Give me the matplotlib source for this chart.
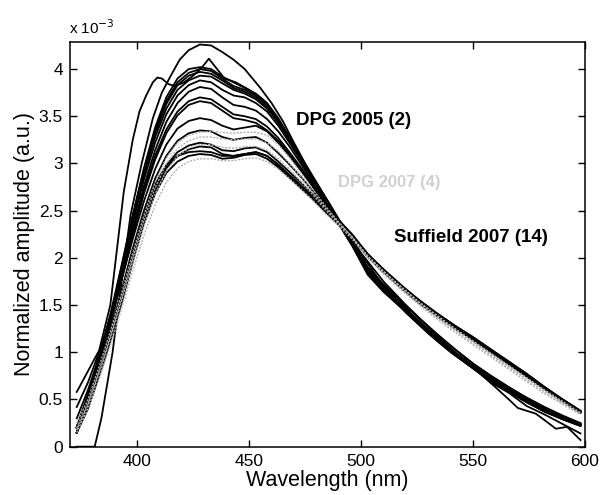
import matplotlib
matplotlib.use("Agg")
import matplotlib.pyplot as plt

# ---------------- data (amplitude in units of 1e-3) ----------------
wl = [373, 378, 383, 388, 393, 398, 403, 408, 413, 418, 423, 428, 433, 438, 443,
      448, 453, 458, 463, 468, 473, 478, 484, 490, 496, 503, 510, 518, 526, 534,
      542, 550, 558, 566, 574, 582, 590, 598]

# Suffield 2007 (14 spectra)
s01 = [0.15, 0.5, 0.9, 1.35, 1.9, 2.45, 2.95, 3.38, 3.7, 3.9, 4.0, 4.02, 4.0, 3.92, 3.86, 3.8, 3.74, 3.64, 3.48, 3.28, 3.08, 2.86, 2.6, 2.36, 2.13, 1.82, 1.64, 1.47, 1.29, 1.12, 0.97, 0.83, 0.7, 0.58, 0.47, 0.37, 0.29, 0.22]
s02 = [0.2, 0.55, 0.95, 1.4, 1.92, 2.45, 2.93, 3.35, 3.66, 3.86, 3.96, 4.0, 3.98, 3.9, 3.82, 3.78, 3.72, 3.62, 3.46, 3.27, 3.07, 2.85, 2.6, 2.37, 2.14, 1.84, 1.66, 1.48, 1.31, 1.14, 0.98, 0.84, 0.71, 0.59, 0.48, 0.38, 0.3, 0.23]
s03 = [0.15, 0.48, 0.88, 1.32, 1.85, 2.4, 2.9, 3.32, 3.63, 3.83, 3.93, 3.97, 3.95, 3.88, 3.8, 3.76, 3.7, 3.6, 3.45, 3.26, 3.06, 2.84, 2.59, 2.36, 2.13, 1.83, 1.65, 1.47, 1.3, 1.13, 0.97, 0.83, 0.7, 0.58, 0.47, 0.37, 0.29, 0.22]
s04 = [0.21, 0.55, 0.95, 1.38, 1.88, 2.4, 2.88, 3.28, 3.58, 3.78, 3.88, 3.93, 3.92, 3.85, 3.78, 3.74, 3.68, 3.58, 3.43, 3.25, 3.05, 2.84, 2.6, 2.38, 2.16, 1.86, 1.68, 1.5, 1.32, 1.15, 0.99, 0.85, 0.72, 0.6, 0.49, 0.39, 0.31, 0.24]
s05 = [0.2, 0.52, 0.92, 1.35, 1.85, 2.36, 2.83, 3.22, 3.52, 3.72, 3.83, 3.88, 3.86, 3.78, 3.72, 3.7, 3.64, 3.55, 3.4, 3.22, 3.03, 2.83, 2.59, 2.37, 2.15, 1.85, 1.67, 1.49, 1.31, 1.14, 0.98, 0.84, 0.71, 0.59, 0.48, 0.38, 0.3, 0.23]
s06 = [0.15, 0.47, 0.86, 1.28, 1.78, 2.3, 2.76, 3.14, 3.44, 3.64, 3.76, 3.81, 3.79, 3.7, 3.62, 3.6, 3.56, 3.47, 3.34, 3.18, 3.0, 2.81, 2.58, 2.37, 2.16, 1.87, 1.69, 1.51, 1.33, 1.16, 1.0, 0.86, 0.73, 0.61, 0.5, 0.4, 0.31, 0.24]
s07 = [0.3, 0.6, 0.95, 1.35, 1.8, 2.27, 2.72, 3.08, 3.36, 3.55, 3.66, 3.7, 3.68, 3.6, 3.52, 3.5, 3.47, 3.39, 3.27, 3.12, 2.96, 2.79, 2.57, 2.37, 2.17, 1.89, 1.71, 1.53, 1.36, 1.19, 1.03, 0.88, 0.75, 0.63, 0.52, 0.42, 0.33, 0.25]
s08 = [0.21, 0.52, 0.9, 1.3, 1.76, 2.24, 2.68, 3.04, 3.32, 3.51, 3.62, 3.66, 3.64, 3.56, 3.48, 3.46, 3.43, 3.35, 3.24, 3.1, 2.94, 2.77, 2.56, 2.36, 2.17, 1.9, 1.72, 1.54, 1.36, 1.19, 1.03, 0.88, 0.75, 0.63, 0.51, 0.41, 0.32, 0.24]
s09 = [0.42, 0.68, 1.0, 1.36, 1.77, 2.2, 2.6, 2.94, 3.2, 3.37, 3.45, 3.48, 3.46, 3.4, 3.36, 3.38, 3.4, 3.34, 3.22, 3.08, 2.93, 2.77, 2.57, 2.4, 2.24, 2.02, 1.85, 1.68, 1.52, 1.38, 1.25, 1.13, 1.0, 0.87, 0.74, 0.61, 0.48, 0.36]
s10 = [0.15, 0.45, 0.82, 1.22, 1.65, 2.1, 2.5, 2.84, 3.08, 3.24, 3.32, 3.35, 3.34, 3.28, 3.25, 3.27, 3.28, 3.22, 3.11, 2.99, 2.86, 2.72, 2.55, 2.4, 2.25, 2.04, 1.87, 1.7, 1.54, 1.4, 1.27, 1.15, 1.02, 0.89, 0.76, 0.62, 0.49, 0.37]
s11 = [0.2, 0.48, 0.84, 1.22, 1.63, 2.06, 2.45, 2.76, 2.98, 3.12, 3.19, 3.22, 3.2, 3.14, 3.13, 3.16, 3.17, 3.12, 3.02, 2.91, 2.8, 2.68, 2.53, 2.38, 2.24, 2.04, 1.88, 1.71, 1.55, 1.41, 1.28, 1.16, 1.03, 0.9, 0.77, 0.63, 0.5, 0.38]
s12 = [0.15, 0.42, 0.78, 1.16, 1.58, 2.0, 2.4, 2.72, 2.95, 3.08, 3.15, 3.18, 3.17, 3.1, 3.08, 3.1, 3.12, 3.08, 2.99, 2.88, 2.77, 2.66, 2.51, 2.37, 2.23, 2.03, 1.87, 1.7, 1.55, 1.41, 1.28, 1.16, 1.03, 0.9, 0.77, 0.63, 0.5, 0.38]
s13 = [0.2, 0.45, 0.8, 1.2, 1.6, 2.05, 2.45, 2.78, 2.98, 3.08, 3.12, 3.13, 3.12, 3.08, 3.08, 3.1, 3.12, 3.08, 2.98, 2.87, 2.76, 2.65, 2.5, 2.36, 2.22, 2.03, 1.87, 1.7, 1.55, 1.4, 1.27, 1.15, 1.02, 0.9, 0.77, 0.63, 0.5, 0.37]
s14 = [0.15, 0.4, 0.75, 1.12, 1.52, 1.96, 2.36, 2.68, 2.9, 3.02, 3.08, 3.1, 3.09, 3.05, 3.06, 3.09, 3.1, 3.05, 2.96, 2.85, 2.74, 2.63, 2.49, 2.35, 2.21, 2.01, 1.85, 1.69, 1.53, 1.39, 1.26, 1.14, 1.01, 0.88, 0.75, 0.62, 0.49, 0.36]

# DPG 2007 (4 spectra, grey)
g01 = [0.25, 0.5, 0.85, 1.22, 1.62, 2.05, 2.45, 2.8, 3.06, 3.22, 3.3, 3.33, 3.34, 3.33, 3.32, 3.33, 3.33, 3.3, 3.2, 3.06, 2.9, 2.74, 2.55, 2.38, 2.22, 2.0, 1.83, 1.66, 1.5, 1.35, 1.21, 1.08, 0.95, 0.82, 0.69, 0.56, 0.45, 0.34]
g02 = [0.2, 0.46, 0.8, 1.17, 1.58, 2.0, 2.4, 2.74, 3.0, 3.16, 3.24, 3.28, 3.28, 3.26, 3.25, 3.26, 3.26, 3.22, 3.13, 3.0, 2.86, 2.71, 2.53, 2.37, 2.22, 2.01, 1.85, 1.68, 1.52, 1.37, 1.23, 1.1, 0.97, 0.84, 0.71, 0.58, 0.46, 0.35]
g03 = [0.18, 0.44, 0.78, 1.14, 1.54, 1.96, 2.34, 2.67, 2.92, 3.08, 3.16, 3.2, 3.2, 3.17, 3.16, 3.18, 3.18, 3.14, 3.05, 2.94, 2.81, 2.68, 2.51, 2.36, 2.22, 2.02, 1.86, 1.69, 1.53, 1.38, 1.24, 1.11, 0.98, 0.85, 0.72, 0.59, 0.47, 0.35]
g04 = [0.15, 0.4, 0.72, 1.07, 1.46, 1.86, 2.24, 2.56, 2.8, 2.95, 3.02, 3.05, 3.05, 3.03, 3.03, 3.05, 3.06, 3.02, 2.94, 2.84, 2.73, 2.62, 2.47, 2.34, 2.2, 2.01, 1.85, 1.69, 1.53, 1.39, 1.25, 1.12, 0.99, 0.86, 0.73, 0.6, 0.48, 0.36]

# DPG 2005 (2 spectra)
d1_wl = [373, 381, 384, 389, 393, 397, 402, 407, 411, 415, 419, 423, 428, 433, 438, 443, 448, 455, 460, 465,
         470, 475, 480, 486, 492, 500, 510, 520, 530, 540, 552, 560, 566, 570, 574, 578, 582, 587, 592, 598]
d1 = [0.0, 0.0, 0.3, 1.0, 1.75, 2.45, 3.0, 3.48, 3.75, 3.93, 4.1, 4.2, 4.26, 4.25, 4.18, 4.1, 4.0, 3.8, 3.64, 3.45,
      3.22, 3.0, 2.8, 2.57, 2.33, 2.05, 1.75, 1.5, 1.27, 1.04, 0.8, 0.63, 0.5, 0.41, 0.38, 0.35, 0.28, 0.19, 0.21, 0.07]
d2_wl = [373, 378, 383, 388, 391, 394, 398, 401, 404, 407, 409, 411, 414, 417, 421, 425, 429, 432, 435, 439,
         444, 450, 456, 462, 468, 474, 480, 486, 492, 500, 510, 520, 530, 540, 550, 558, 566, 574, 582, 590, 598]
d2 = [0.58, 0.8, 1.02, 1.5, 2.1, 2.7, 3.25, 3.55, 3.72, 3.86, 3.91, 3.9, 3.84, 3.82, 3.86, 3.93, 4.02, 4.11, 4.02, 3.9,
      3.86, 3.78, 3.68, 3.5, 3.27, 3.03, 2.8, 2.56, 2.33, 2.04, 1.7, 1.42, 1.2, 1.0, 0.83, 0.68, 0.57, 0.43, 0.34, 0.24, 0.14]

x_ticks = [400, 450, 500, 550, 600]
y_ticks = [0, 0.5, 1, 1.5, 2, 2.5, 3, 3.5, 4]
y_tick_labels = ["0", "0.5", "1", "1.5", "2", "2.5", "3", "3.5", "4"]

# ---------------- plot ----------------
plt.rcParams['font.family'] = ['Liberation Sans', 'DejaVu Sans']
fig = plt.figure(figsize=(6.09, 4.95), dpi=100)
ax = fig.add_axes([0.115, 0.0976, 0.8456, 0.8182])

for g in [g01, g02, g03, g04]:
    ax.plot(wl, g, color='#b0b0b0', lw=1.0, ls=(0, (1.5, 1.0)), zorder=3)
for s in [s01, s02, s03, s04, s05, s06, s07, s08, s09, s10, s11, s12, s13, s14]:
    ax.plot(wl, s, color='black', lw=1.3, zorder=2)
ax.plot(d1_wl, d1, color='black', lw=1.3, zorder=2)
ax.plot(d2_wl, d2, color='black', lw=1.3, zorder=2)

ax.set_xlim(370, 600)
ax.set_ylim(0, 4.29)
ax.set_xticks(x_ticks)
ax.set_yticks(y_ticks)
ax.set_yticklabels(y_tick_labels)
ax.tick_params(direction='in', length=5, width=1, top=True, right=True, labelsize=12.5, pad=5)
for sp in ax.spines.values():
    sp.set_linewidth(1.1)

ax.set_xlabel("Wavelength (nm)", fontsize=15.5, labelpad=1)
ax.set_ylabel("Normalized amplitude (a.u.)", fontsize=15.5, labelpad=3)
fig.text(0.113, 0.945, r"x 10$^{-3}$", fontsize=11, ha='left', va='center')

ax.text(471, 3.46, "DPG 2005 (2)", fontsize=13.5, fontweight='bold', ha='left', va='center', zorder=5)
ax.text(489.5, 2.8, "DPG 2007 (4)", fontsize=12, fontweight='bold', color='#d0d0d0', ha='left', va='center', zorder=5)
ax.text(514.5, 2.22, "Suffield 2007 (14)", fontsize=13.5, fontweight='bold', ha='left', va='center', zorder=5)

fig.savefig("out.png", dpi=100)
